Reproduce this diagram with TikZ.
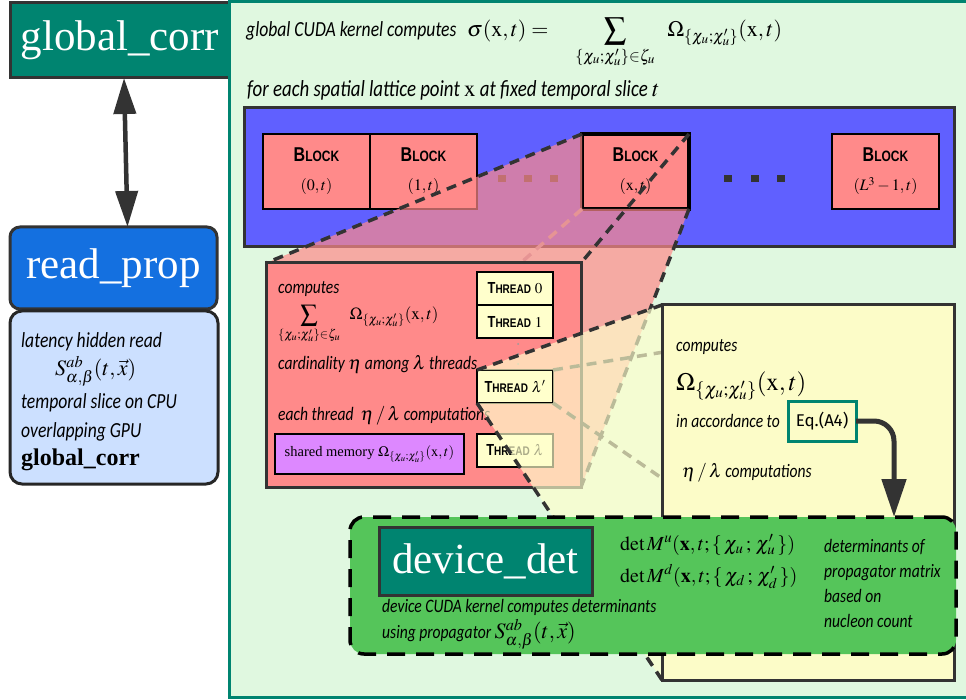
\documentclass[tikz,border=0pt]{standalone}
\usepackage{mathptmx}
\usepackage{fontspec}
\setmainfont{Liberation Serif}
\newfontfamily\handfont{Carlito}[FakeStretch=0.82]
\newfontfamily\capsfont{Liberation Sans}[FakeStretch=0.8]
\newfontfamily\eqfont{Fira Sans}
\usetikzlibrary{arrows.meta}

\definecolor{tealbox}{RGB}{0,132,112}
\definecolor{edgegray}{RGB}{51,51,51}
\definecolor{readblue}{RGB}{20,112,224}
\definecolor{paleblue}{RGB}{204,224,255}
\definecolor{palegreen}{RGB}{224,248,224}
\definecolor{gridblue}{RGB}{96,96,255}
\definecolor{salmon}{RGB}{255,138,138}
\definecolor{threadyellow}{RGB}{255,255,204}
\definecolor{cream}{RGB}{252,252,200}
\definecolor{lilac}{RGB}{221,136,255}
\definecolor{detgreen}{RGB}{85,197,90}

\newcommand{\blocklabel}{{\capsfont\bfseries\fontsize{20}{20}\selectfont B\fontsize{15}{15}\selectfont LOCK}}
\newcommand{\threadlabel}{{\capsfont\bfseries\fontsize{16}{16}\selectfont T\fontsize{12.5}{12.5}\selectfont HREAD}}
\newcommand{\omegau}{\Omega_{\{\chi_u;\chi'_u\}}(\mathrm{x},t)}
\newcommand{\sumu}{\sum_{\{\chi_u;\chi'_u\}\in\zeta_u}}
\newcommand{\propS}{S^{ab}_{\alpha,\beta}(t,\vec{x})}

\tikzset{
  box/.style={draw=edgegray, line width=3pt, inner sep=0pt, outer sep=0pt, anchor=north west},
  title/.style={text=white, font=\fontsize{43}{43}\selectfont},
  hint/.style={anchor=base west, inner sep=0pt, font=\handfont\itshape\fontsize{19}{22}\selectfont},
  maths/.style={anchor=base west, inner sep=0pt},
  blockbox/.style={draw=black, line width=2pt, fill=salmon, minimum width=107pt, minimum height=75pt,
    inner sep=0pt, outer sep=0pt, anchor=north west, align=center, font=\fontsize{16}{29}\selectfont},
  threadbox/.style={draw=black, line width=2pt, fill=threadyellow, minimum width=76pt, minimum height=33pt,
    inner sep=0pt, outer sep=0pt, anchor=north west, font=\fontsize{15}{15}\selectfont},
  ray/.style={draw=edgegray, line width=3.5pt, dash pattern=on 10pt off 7pt},
  bigtip/.style={-{Triangle[length=38pt, width=24pt]}},
}

\begin{document}
\begin{tikzpicture}[x=1pt, y=-1pt]
\useasboundingbox (0,0) rectangle (966,700);

% host side
\node[box, fill=tealbox, minimum width=220pt, minimum height=75pt, title] (gc) at (10,3) {global\_corr};
\node[box, rounded corners=10pt, fill=readblue, minimum width=207pt, minimum height=82pt, title] (rp) at (10,227) {read\_prop};
\draw[edgegray, line width=4.5pt, {Triangle[length=36pt, width=22pt]}-{Triangle[length=36pt, width=22pt]}]
  ([xshift=4pt]gc.south) -- ([xshift=14pt]rp.north);
\node[box, draw=black!85, rounded corners=12pt, fill=paleblue, minimum width=208pt, minimum height=173pt] (rpnote) at (10,311) {};
\node[hint, font=\handfont\itshape\fontsize{21.5}{24}\selectfont] (rp1) at (21,348) {latency hidden read};
\node[maths, font=\fontsize{22}{24}\selectfont] (rp2) at (55,375) {$\propS$};
\node[hint, font=\handfont\itshape\fontsize{21.5}{24}\selectfont] (rp3) at (21,408) {temporal slice on CPU};
\node[hint, font=\handfont\itshape\fontsize{21.5}{24}\selectfont] (rp4) at (21,437) {overlapping GPU};
\node[maths, font=\bfseries\fontsize{24}{24}\selectfont] (rp5) at (21,465) {global\_corr};

% global kernel
\node[draw=tealbox, line width=3pt, fill=palegreen, minimum width=760pt, minimum height=695pt,
  inner sep=0pt, outer sep=0pt, anchor=north west] (kernel) at (229,2) {};
\node[hint, font=\handfont\itshape\fontsize{21.5}{24}\selectfont] (gk1) at (246,37) {global CUDA kernel computes};
\node[maths, font=\fontsize{22}{24}\selectfont] (gk2) at (467,37) {$\sigma(\mathrm{x},t) = \quad\displaystyle\sumu\;\;\omegau$};
\node[hint, font=\handfont\itshape\fontsize{23}{26}\selectfont] (gk3) at (247,97) {for each spatial lattice point $\mathrm{x}$ at fixed temporal slice $t$};

% blocks of the grid
\node[box, fill=gridblue, minimum width=710pt, minimum height=139pt] (grid) at (244,108) {};
\node[blockbox] (b0) at (263,134) {\blocklabel\\$(0,t)$};
\node[blockbox] (b1) at (370,134) {\blocklabel\\$(1,t)$};
\node[blockbox, line width=3.5pt] (bx) at (582,134) {\blocklabel\\$(\mathrm{x},t)$};
\node[blockbox] (bl) at (832,134) {\blocklabel\\$(L^3-1,t)$};
\foreach \x in {502,528,554} \fill[edgegray] (\x-4,175) rectangle (\x+4,182);
\foreach \x in {728,755,781} \fill[edgegray] (\x-4,175) rectangle (\x+4,182);

% block (x,t) opened up
\coordinate (cNW) at (266,263);
\coordinate (cSE) at (581,487);
\draw[ray, draw=edgegray!40] (bx.south west) -- (cNW |- cSE);
\fill[salmon, opacity=0.7] (bx.north west) -- (bx.south west) -- (bx.south east) -- (cSE) -- (cNW |- cSE) -- (cNW) -- cycle;
\draw[ray] (bx.north west) -- (cNW);
\draw[ray] (bx.north east) -- (cNW -| cSE);
\draw[ray] (bx.south east) -- (cSE);

\node[box, fill=salmon, minimum width=315pt, minimum height=224pt] (comp) at (cNW) {};
\node[hint] (c1) at (278,294) {computes};
\node[maths, font=\fontsize{17}{20}\selectfont] (c2) at (278,320) {$\displaystyle\sumu\;\;\omegau$};
\node[hint] (c3) at (278,370) {cardinality $\eta$ among $\lambda$ threads};
\node[hint] (c4) at (278,420) {each thread \ $\eta\,/\,\lambda$ computations};
\node[box, draw=black, line width=2pt, fill=lilac, minimum width=189pt, minimum height=40pt,
  font=\fontsize{14.5}{18}\selectfont] (shm) at (275,434) {shared memory $\Omega_{\{\chi_u;\chi'_u\}}(\mathrm{x},t)$};

\node[threadbox] (t0) at (477,272) {\threadlabel\ $0$};
\node[threadbox] (t1) at (477,305) {\threadlabel\ $1$};
\node[threadbox] (tl) at (477,370) {\threadlabel\ $\lambda'$};
\node[threadbox] (tn) at (477,434) {\threadlabel\ $\lambda$};
\foreach \y in {344,354,364} \fill[edgegray!50] (518,\y) circle (1pt);

% thread lambda' opened up
\coordinate (wNW) at (662,305);
\coordinate (wSE) at (954,680);
\draw[ray] (tl.north east) -- (wNW -| wSE);
\draw[ray] (tl.south east) -- (wSE);
\fill[threadyellow, opacity=0.67] (tl.north west) -- (wNW) -- (wNW |- wSE) -- (tl.south west) -- (tl.south east) -- (tl.north east) -- cycle;
\draw[ray] (tl.north west) -- (wNW);
\draw[ray] (tl.south west) -- (wNW |- wSE);

\node[box, fill=cream, minimum width=292pt, minimum height=375pt] (work) at (wNW) {};
\node[hint] (w1) at (676,352) {computes};
\node[maths, font=\fontsize{25}{30}\selectfont] (w2) at (676,390) {$\omegau$};
\node[hint] (w3) at (676,427) {in accordance to};
\node[box, draw=tealbox, fill=cream, minimum width=68pt, minimum height=40pt,
  font=\eqfont\fontsize{17}{20}\selectfont] (eq) at (788,401) {Eq.(A4)};
\node[hint] (w4) at (682,477) {$\eta\,/\,\lambda$ computations};

% device kernel
\node[draw=black, line width=3.5pt, dash pattern=on 18pt off 11pt, rounded corners=14pt, fill=detgreen,
  minimum width=606pt, minimum height=137pt, inner sep=0pt, outer sep=0pt, anchor=north west] (detbox) at (350,517) {};
\coordinate (eqdrop) at (894,517);
\draw[edgegray, line width=5pt, rounded corners=20pt, bigtip] (eq.east) -| (eqdrop);
\node[box, fill=tealbox, minimum width=213pt, minimum height=68pt, title] (devdet) at (379,527) {device\_det};
\node[maths, font=\fontsize{20}{22}\selectfont] (d1) at (620,550) {$\det M^u(\mathbf{x},t;\{\,\chi_u\,;\,\chi'_u\,\})$};
\node[maths, font=\fontsize{20}{22}\selectfont] (d2) at (620,582) {$\det M^d(\mathbf{x},t;\{\,\chi_d\,;\,\chi'_d\,\})$};
\node[hint] (d3) at (824,552) {determinants of};
\node[hint] (d4) at (824,577) {propagator matrix};
\node[hint] (d5) at (824,602) {based on};
\node[hint] (d6) at (824,627) {nucleon count};
\node[hint] (d7) at (382,612) {device CUDA kernel computes determinants};
\node[hint] (d8) at (382,638) {using propagator {\fontsize{22}{24}\selectfont$\propS$}};
\end{tikzpicture}
\end{document}
